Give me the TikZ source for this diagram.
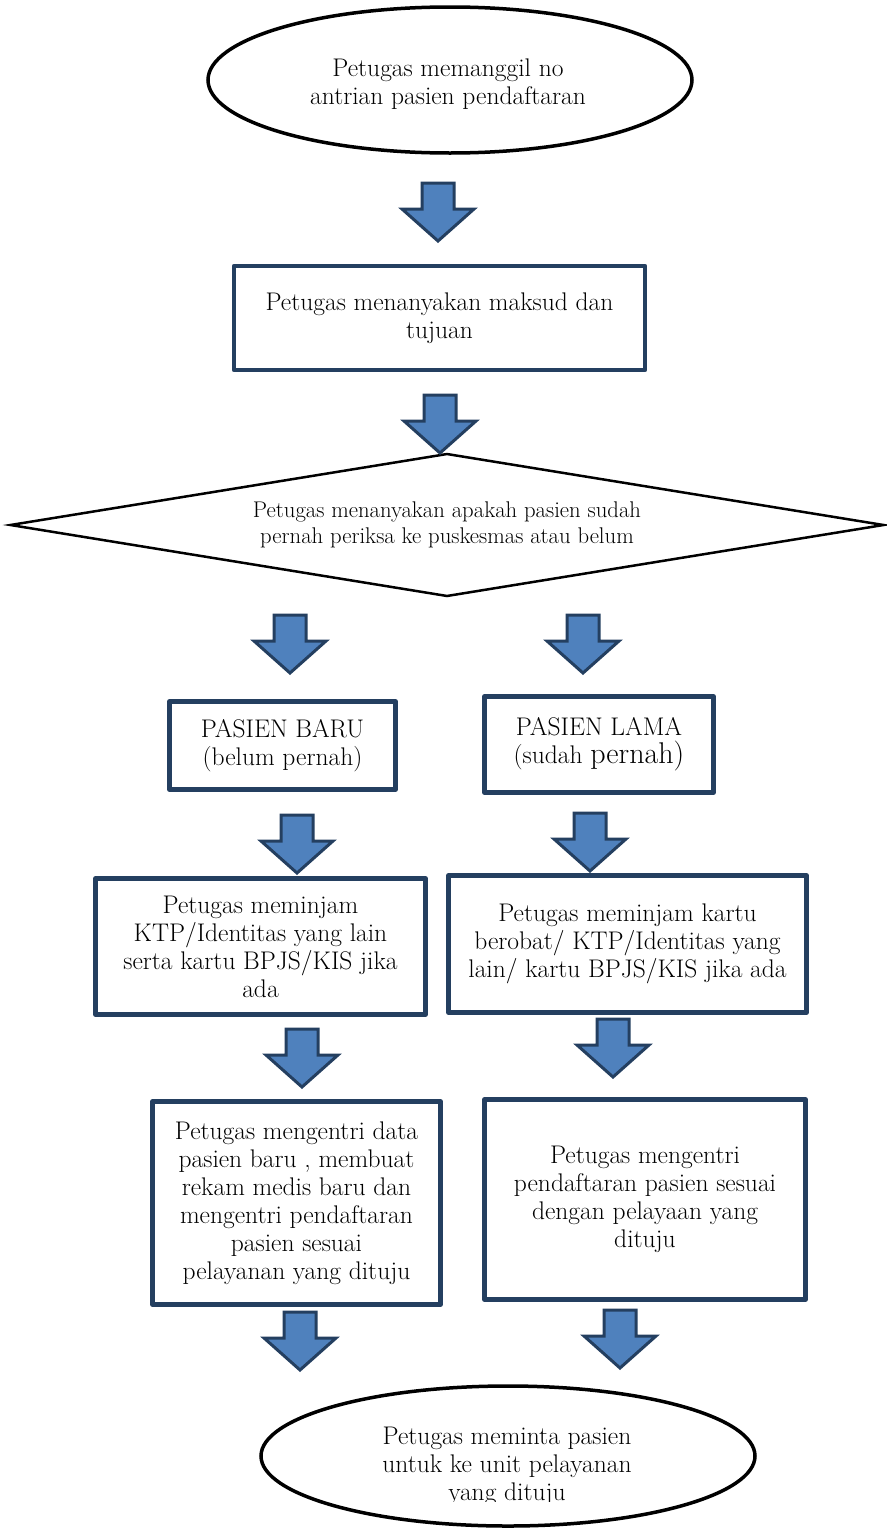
\documentclass[tikz,border=0pt]{standalone}
\usepackage{tikz}
\usetikzlibrary{shapes.geometric}

\definecolor{boxnavy}{HTML}{243F60}
\definecolor{arrowblue}{HTML}{4F81BD}

\begin{document}
\begin{tikzpicture}[x=1pt,y=-1pt,
  txt/.style={align=center,font=\fontsize{25.5}{28}\selectfont,inner sep=0pt},
  oval/.style={draw=black,line width=3.5pt,ellipse,inner sep=0pt},
  proc/.style={draw=boxnavy,line width=4.5pt,line join=round,inner sep=0pt,align=center,font=\fontsize{25.5}{28}\selectfont},
  decision/.style={draw=black,line width=2.5pt,diamond,aspect=6,inner sep=0pt,align=center,font=\fontsize{22.7}{26}\selectfont},
  pics/blockarrow/.style={code={
    \draw[draw=boxnavy,fill=arrowblue,line width=3pt,line join=miter]
      (-16,-29) -- (16,-29) -- (16,-3) -- (36,-3) -- (0,29) -- (-36,-3) -- (-16,-3) -- cycle;}}]

\useasboundingbox (0,0) rectangle (886,1531);

\node[oval,minimum width=484,minimum height=146] (start) at (450,80) {};
\node[txt] (starttext) at (448,84) {Petugas memanggil no\\antrian pasien pendaftaran};

\node[proc,minimum width=411,minimum height=104] (tanya) at (439.5,318) {Petugas menanyakan maksud dan\\tujuan};

\node[decision,minimum width=874,minimum height=143] (cek) at (447,525) {Petugas menanyakan apakah pasien sudah\\pernah periksa ke puskesmas atau belum};

\node[proc,minimum width=226,minimum height=88] (baru) at (282.5,745.5) {PASIEN BARU\\(belum pernah)};
\node[proc,minimum width=229,minimum height=96] (lama) at (599,744.5) {PASIEN LAMA\\(sudah {\fontsize{30}{28}\selectfont pernah)}};

\node[proc,minimum width=330,minimum height=136] (pinjambaru) at (260.5,946.5) {Petugas meminjam\\KTP/Identitas yang lain\\serta kartu BPJS/KIS jika\\ada};
\node[proc,minimum width=358,minimum height=137] (pinjamlama) at (627.5,944) {Petugas meminjam kartu\\berobat/ KTP/Identitas yang\\lain/ kartu BPJS/KIS jika ada};

\node[proc,minimum width=288,minimum height=203] (entribaru) at (296.5,1203) {Petugas mengentri data\\pasien baru , membuat\\rekam medis baru dan\\mengentri pendaftaran\\pasien sesuai\\pelayanan yang dituju};
\node[proc,minimum width=321,minimum height=200] (entrilama) at (645,1199.5) {Petugas mengentri\\pendaftaran pasien sesuai\\dengan pelayaan yang\\dituju};

\node[oval,minimum width=494,minimum height=140] (selesai) at (508,1456) {};
\begin{scope}
\clip (0,0) rectangle (886,1501);
\node[txt] (selesaitext) at (507,1466) {Petugas meminta pasien\\untuk ke unit pelayanan\\yang dituju};
\end{scope}

\pic (a1) at (438,212) {blockarrow};
\pic (a2) at (440,424) {blockarrow};
\pic (a3) at (290,644) {blockarrow};
\pic (a4) at (583,644) {blockarrow};
\pic (a5) at (297,844) {blockarrow};
\pic (a6) at (590,842) {blockarrow};
\pic (a7) at (302,1058) {blockarrow};
\pic (a8) at (613,1048) {blockarrow};
\pic (a9) at (300,1341) {blockarrow};
\pic (a10) at (620,1339) {blockarrow};
\end{tikzpicture}
\end{document}
